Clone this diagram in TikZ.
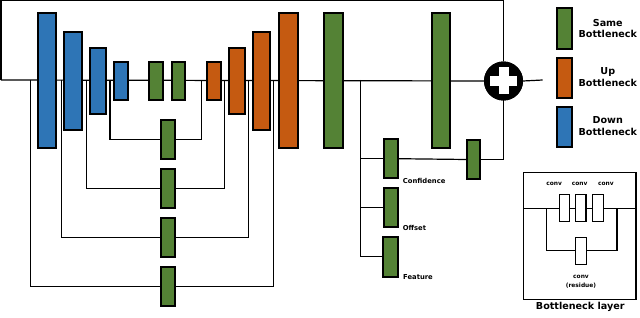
\documentclass[tikz,border=0pt]{standalone}
\usepackage{fontspec}
\setmainfont{DejaVu Sans}
\usetikzlibrary{calc}
\definecolor{cblue}{HTML}{2E75B6}
\definecolor{cgreen}{HTML}{548235}
\definecolor{corange}{HTML}{C55A11}
\begin{document}
\begin{tikzpicture}[x=1pt,y=-1pt,
  blk/.style={draw=black,line width=1.8pt,inner sep=0pt,outer sep=0pt,rectangle},
  bbox/.style={blk,fill=cblue},
  gbox/.style={blk,fill=cgreen},
  obox/.style={blk,fill=corange},
  wbox/.style={draw=black,line width=1.1pt,fill=white,inner sep=0pt,outer sep=0pt,minimum width=10.3pt,minimum height=26.5pt},
  conn/.style={draw=black,line width=1.2pt},
  lab/.style={font=\fontsize{6.8}{8}\selectfont\bfseries,inner sep=0pt,anchor=west},
  leg/.style={font=\fontsize{9.6}{11.6}\selectfont\bfseries,align=center,inner sep=0pt},
  small/.style={font=\fontsize{5.9}{8.7}\selectfont\bfseries,inner sep=0pt}]
\useasboundingbox (0,0) rectangle (640,318);

% ---------- main path coordinates ----------
\coordinate (mstart) at (1,80);
\coordinate (mend) at (542.7,80);
\coordinate (tl) at (1,0.7);
\coordinate (tr) at (503.5,0.7);

% skip coordinates
\coordinate (k1a) at (110,80);   \coordinate (k1b) at (201.7,80);
\coordinate (k2a) at (86.3,80);  \coordinate (k2b) at (224.3,80);
\coordinate (k3a) at (61.3,80);  \coordinate (k3b) at (248.3,80);
\coordinate (k4a) at (30.3,80);  \coordinate (k4b) at (273.7,80);
\coordinate (hb) at (360.5,80);

% ---------- skip boxes ----------
\node[gbox,minimum width=14.3pt,minimum height=39pt] (s1) at (168.2,139.5) {};
\node[gbox,minimum width=14.3pt,minimum height=39pt] (s2) at (168.2,188.6) {};
\node[gbox,minimum width=14.3pt,minimum height=39pt] (s3) at (168.2,237.6) {};
\node[gbox,minimum width=14.3pt,minimum height=39pt] (s4) at (168.2,286.5) {};

% ---------- head boxes ----------
\node[gbox,minimum width=14pt,minimum height=39.3pt] (conf) at (391.3,158.7) {};
\node[gbox,minimum width=14pt,minimum height=39pt] (offs) at (391.3,207.8) {};
\node[gbox,minimum width=14.4pt,minimum height=40pt] (feat) at (390.5,256.7) {};
\node[gbox,minimum width=13.3pt,minimum height=39pt] (hsm) at (473.4,159.5) {};

% plus
\node[circle,fill=black,minimum size=39pt,inner sep=0pt,outer sep=0pt] (plus) at (503.5,81) {};

% ---------- connectors (under boxes) ----------
\draw[conn] (mstart) -- (plus.west);
\draw[conn] (plus.east) -- (mend);
\draw[conn] (mstart) -- (tl) -- (tr) -- (plus.north);
\draw[conn] (k1a) |- (s1.west);  \draw[conn] (s1.east) -| (k1b);
\draw[conn] (k2a) |- (s2.west);  \draw[conn] (s2.east) -| (k2b);
\draw[conn] (k3a) |- (s3.west);  \draw[conn] (s3.east) -| (k3b);
\draw[conn] (k4a) |- (s4.west);  \draw[conn] (s4.east) -| (k4b);
\draw[conn] (hb) |- (feat.west);
\draw[conn] (hb |- conf.west) -- (conf.west);
\draw[conn] (hb |- offs.west) -- (offs.west);
\draw[conn] (conf.east) -- (hsm.west);
\draw[conn] (hsm.east) -| (plus.south);

% redraw boxes on top of lines
\foreach \n in {s1,s2,s3,s4,conf,offs,feat,hsm}{
  \draw[black,line width=1.8pt,fill=cgreen] (\n.south west) rectangle (\n.north east);
}

% ---------- main boxes ----------
\node[bbox,minimum width=18pt,minimum height=134.4pt] (b1) at (46.7,80.5) {};
\node[bbox,minimum width=17.4pt,minimum height=98pt] (b2) at (73,81) {};
\node[bbox,minimum width=16.3pt,minimum height=65.7pt] (b3) at (97.9,81.2) {};
\node[bbox,minimum width=13.7pt,minimum height=38.3pt] (b4) at (120.9,80.9) {};
\node[gbox,minimum width=13.7pt,minimum height=38.3pt] (g1) at (155.9,80.9) {};
\node[gbox,minimum width=13.7pt,minimum height=38.3pt] (g2) at (178.5,80.9) {};
\node[obox,minimum width=14.3pt,minimum height=38.3pt] (o1) at (213.9,80.9) {};
\node[obox,minimum width=15.7pt,minimum height=65.7pt] (o2) at (236.9,81.2) {};
\node[obox,minimum width=16.7pt,minimum height=98pt] (o3) at (261.7,81) {};
\node[obox,minimum width=19pt,minimum height=134.4pt] (o4) at (288.2,80.5) {};
\node[gbox,minimum width=18.7pt,minimum height=134.4pt] (gA) at (333.4,80.5) {};
\node[gbox,minimum width=18pt,minimum height=134.4pt] (gB) at (441,80.5) {};

% plus cross
\fill[black] (plus) circle (19.5pt);
\fill[white] ($(plus)+(-13.5,-5)$) rectangle ($(plus)+(13.5,5)$);
\fill[white] ($(plus)+(-5,-13.5)$) rectangle ($(plus)+(5,13.5)$);

% labels
\node[lab] (tconf) at (402.7,180.7) {Confidence};
\node[lab] (toffs) at (402.7,228.3) {Offset};
\node[lab] (tfeat) at (403,276.7) {Feature};

% ---------- legend ----------
\node[gbox,minimum width=14.4pt,minimum height=41pt] (lg) at (564.5,28.8) {};
\node[obox,minimum width=14.4pt,minimum height=40.6pt] (lo) at (564.5,78) {};
\node[bbox,minimum width=14.4pt,minimum height=40pt] (lb) at (564.5,126.7) {};
\node[leg] (tlg) at (607.8,28.5) {Same\\Bottleneck};
\node[leg] (tlo) at (607.8,77) {Up\\Bottleneck};
\node[leg] (tlb) at (607.8,126.3) {Down\\Bottleneck};

% ---------- bottleneck layer inset ----------
\node[draw=black,line width=1.2pt,minimum width=112.7pt,minimum height=126.6pt,inner sep=0pt,outer sep=0pt] (inset) at (579.65,236) {};
\coordinate (rl) at (546.2,208.5);
\coordinate (rr) at (617,208.5);
\node[wbox,minimum width=11pt,minimum height=27pt] (res) at (581.2,250.8) {};
\draw[line width=1.1pt] (inset.west |- rl) -- (inset.east |- rl);
\draw[line width=1.1pt] (rl) |- (res.west);
\draw[line width=1.1pt] (res.east) -| (rr);
\draw[line width=1.1pt,fill=white] (res.south west) rectangle (res.north east);
\node[wbox] (c1) at (564.2,207.8) {};
\node[wbox] (c2) at (580.8,207.8) {};
\node[wbox] (c3) at (598,207.8) {};
\node[small] (tc1) at (554.2,184) {conv};
\node[small] (tc2) at (579.7,184) {conv};
\node[small] (tc3) at (605.8,184) {conv};
\node[small,align=center] (tres) at (581,281.7) {conv\\(residue)};
\node[font=\fontsize{9.6}{10}\selectfont\bfseries,inner sep=0pt] (tbl) at (580.3,306.7) {Bottleneck layer};
\end{tikzpicture}
\end{document}
